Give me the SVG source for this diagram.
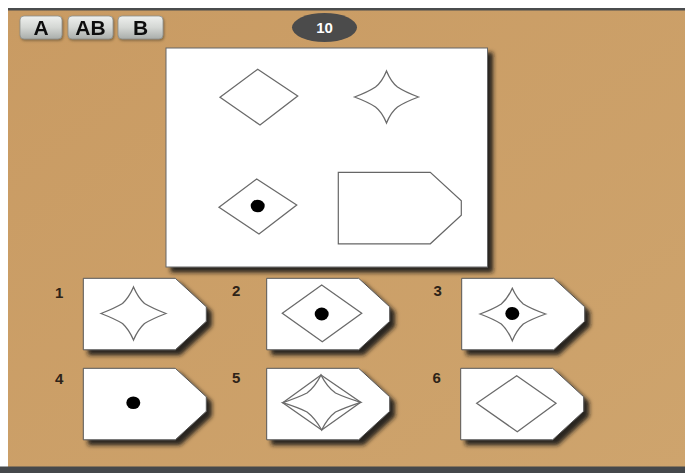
<svg xmlns="http://www.w3.org/2000/svg" width="685" height="473" viewBox="0 0 685 473">
<defs>
<style>
.ln{fill:none;stroke:#6a6a6a;stroke-width:1.3;stroke-linejoin:miter}
.card{fill:#fff;stroke:#555;stroke-width:1}
.num{font-family:"Liberation Sans",Arial,sans-serif;font-weight:bold;font-size:15px;fill:#2e2318}
.btxt{font-family:"Liberation Sans",Arial,sans-serif;font-weight:bold;font-size:21px;fill:#111;text-anchor:middle}
.dot{fill:#000}
</style>
<linearGradient id="btn" x1="0" y1="0" x2="0" y2="1">
<stop offset="0" stop-color="#eef0ee"/>
<stop offset="0.5" stop-color="#d4d7d4"/>
<stop offset="1" stop-color="#a9adaa"/>
</linearGradient>
<linearGradient id="bg" x1="0" y1="0" x2="1" y2="1">
<stop offset="0" stop-color="#c99b63"/>
<stop offset="1" stop-color="#cea46d"/>
</linearGradient>
<filter id="sh" x="-10%" y="-10%" width="130%" height="140%">
<feDropShadow dx="5" dy="5" stdDeviation="2" flood-color="#141414" flood-opacity="0.9"/>
</filter>
<filter id="bsh" x="-10%" y="-10%" width="130%" height="140%">
<feDropShadow dx="1" dy="1.5" stdDeviation="1" flood-color="#6b5434" flood-opacity="0.7"/>
</filter>
<path id="tag" d="M0,0 H92 L123,28.5 V43 L92,71.5 H0 Z"/>
</defs>
<rect width="685" height="473" fill="#ffffff"/>
<rect x="8" y="8" width="677" height="465" fill="url(#bg)"/>
<rect x="8" y="8" width="677" height="2.5" fill="#4a4c4e"/>
<rect x="0" y="466.5" width="685" height="6.5" fill="#45484b"/>

<g id="buttons">
<g id="btnA" filter="url(#bsh)"><rect x="20" y="16" width="42" height="23" rx="4" fill="url(#btn)" stroke="#8d8f8c" stroke-width="0.8"/><text class="btxt" x="41" y="35">A</text></g>
<g id="btnAB" filter="url(#bsh)"><rect x="68" y="16" width="45" height="23" rx="4" fill="url(#btn)" stroke="#8d8f8c" stroke-width="0.8"/><text class="btxt" x="90.5" y="35">AB</text></g>
<g id="btnB" filter="url(#bsh)"><rect x="118" y="16" width="45" height="23" rx="4" fill="url(#btn)" stroke="#8d8f8c" stroke-width="0.8"/><text class="btxt" x="140.5" y="35">B</text></g>
</g>

<g id="counter">
<ellipse cx="324.5" cy="27.5" rx="32.5" ry="14.5" fill="#4b4b4b"/>
<text x="324.5" y="33" font-family="Liberation Sans,Arial,sans-serif" font-weight="bold" font-size="15" fill="#fff" text-anchor="middle">10</text>
</g>

<g id="panel">
<rect x="166" y="48" width="321.5" height="219" fill="#fff" stroke="#666" stroke-width="1" filter="url(#sh)"/>
<path class="ln" d="M220,97.3 L257.7,69.3 L297.7,96 L260,125 Z"/>
<path class="ln" d="M354.5,97 Q368,92 375.5,87 Q382,82 386.5,71 Q391,82 397.5,87 Q405,92 418.5,97 Q405,102 397.5,107 Q391,112 386.5,123 Q382,112 375.5,107 Q368,102 354.5,97 Z"/>
<path class="ln" d="M219,207.3 L256.7,179 L296.7,205 L259,234 Z"/>
<ellipse class="dot" cx="257.7" cy="206" rx="7" ry="6.3"/>
<use href="#tag" x="338.3" y="172.3" fill="#fff" stroke="#666" stroke-width="1.2"/>
</g>

<g id="opt1">
<text class="num" x="55" y="298">1</text>
<use href="#tag" x="83.3" y="278.3" class="card" filter="url(#sh)"/>
<path class="ln" d="M101,313.5 Q114.5,308.3 122.5,303.5 Q129,297.5 133.5,287 Q138,297.5 144.5,303.5 Q152.5,308.3 166,313.5 Q152.5,318.7 144.5,323.5 Q138,329.5 133.5,340 Q129,329.5 122.5,323.5 Q114.5,318.7 101,313.5 Z"/>
</g>

<g id="opt2">
<text class="num" x="232" y="296">2</text>
<use href="#tag" x="266.7" y="278.3" class="card" filter="url(#sh)"/>
<path class="ln" d="M282.3,313.3 L321.7,285 L361.7,313.3 L322.3,341.7 Z"/>
<ellipse class="dot" cx="321.7" cy="314" rx="7" ry="6.5"/>
</g>

<g id="opt3">
<text class="num" x="433.5" y="296">3</text>
<use href="#tag" x="461.7" y="278.3" class="card" filter="url(#sh)"/>
<path class="ln" d="M480,314 Q493.5,309 501.3,304 Q507.8,298.5 512.3,288.3 Q516.8,298.5 523.3,304 Q531.5,309 545.7,314 Q531.5,319 523.3,324 Q516.8,330 512.3,340.7 Q507.8,330 501.3,324 Q493.5,319 480,314 Z"/>
<ellipse class="dot" cx="512.3" cy="313.5" rx="7" ry="6.5"/>
</g>

<g id="opt4">
<text class="num" x="55" y="384">4</text>
<use href="#tag" x="83.3" y="368.3" class="card" filter="url(#sh)"/>
<ellipse class="dot" cx="133.3" cy="402.7" rx="7" ry="6.3"/>
</g>

<g id="opt5">
<text class="num" x="232" y="383">5</text>
<use href="#tag" x="266.7" y="368.3" class="card" filter="url(#sh)"/>
<path class="ln" d="M282.7,402.7 L321,375 L360.7,402.3 L321.7,430 Z"/>
<path class="ln" d="M282.7,402.7 Q298,397.5 307,393 Q315,387 321,375 Q327,387 335.5,393 Q345,397.5 360.7,402.3 Q345,407.5 335.5,412 Q327.5,418 321.7,430 Q315,418 307,412 Q298,407.5 282.7,402.7 Z"/>
</g>

<g id="opt6">
<text class="num" x="432.5" y="383">6</text>
<use href="#tag" x="460.7" y="368.3" class="card" filter="url(#sh)"/>
<path class="ln" d="M476.7,403.3 L516.7,375.7 L556,403.3 L517.3,431.7 Z"/>
</g>
<g id="connectors"/>
</svg>
